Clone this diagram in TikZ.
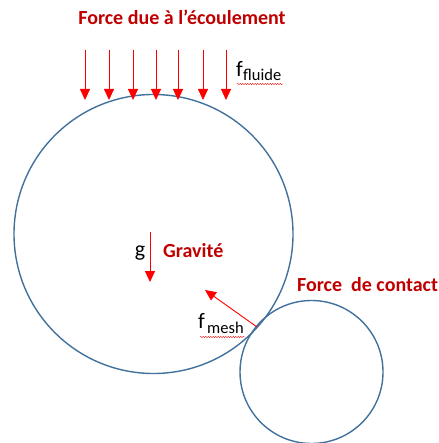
\documentclass[tikz,border=0pt]{standalone}
\usepackage{fontspec}
\setmainfont{Carlito}
\usetikzlibrary{arrows.meta,decorations.pathmorphing}
\definecolor{dred}{HTML}{C00000}
\definecolor{fred}{HTML}{FF0000}
\definecolor{cblue}{HTML}{41719C}
\tikzset{
  x=1pt,y=-1pt,
  force/.style={draw=fred,line width=0.9pt,-{Triangle[length=11pt,width=10pt]}},
  ball/.style={draw=cblue,line width=1.4pt},
  redlabel/.style={text=dred,font=\bfseries\fontsize{20}{24}\selectfont,inner sep=0pt},
  sym/.style={font=\fontsize{22}{26}\selectfont,inner sep=0pt,anchor=base west},
  subsym/.style={font=\fontsize{16.5}{20}\selectfont,inner sep=0pt,anchor=base west},
  squig/.style={draw=fred,line width=0.4pt,decorate,decoration={snake,amplitude=0.6pt,segment length=2.5pt}}
}
\begin{document}
\begin{tikzpicture}
\useasboundingbox (0,0) rectangle (438,443);
% circles
\node[ball,circle,minimum size=279pt,inner sep=0pt] (big) at (153.5,234) {};
\node[ball,circle,minimum size=143pt,inner sep=0pt] (small) at (311.5,372) {};
% title
\node[redlabel] (title) at (182,17) {Force due à l’écoulement};
% fluid arrows
\foreach \i/\x in {1/85,2/109,3/133,4/156,5/178,6/203,7/226}{
  \coordinate (a\i) at (\x,50);
  \coordinate (b\i) at (\x,100);
  \draw[force] (a\i) -- (b\i);
}
\node[sym] (ff) at (236,77) {f};
\node[subsym] (ffsub) at (243,81) {fluide};
\coordinate (sq1) at (237,84);
\coordinate (sq2) at (283,84);
\draw[squig] (sq1) -- (sq2);
% gravity
\coordinate (g1) at (150,232);
\coordinate (g2) at (150,282);
\draw[force] (g1) -- (g2);
\node[sym,anchor=base] (g) at (140,256) {g};
\node[redlabel,anchor=base west] (grav) at (163,257) {Gravité};
% contact
\node[redlabel,anchor=base west] (contact) at (297,291) {Force\ \ de contact};
\coordinate (m1) at (257,327);
\coordinate (m2) at (205,290);
\draw[force] (m1) -- (m2);
\node[sym] (fm) at (198,328) {f};
\node[subsym] (fmsub) at (207,333) {mesh};
\coordinate (sq3) at (200,337);
\coordinate (sq4) at (245,337);
\draw[squig] (sq3) -- (sq4);
\end{tikzpicture}
\end{document}
